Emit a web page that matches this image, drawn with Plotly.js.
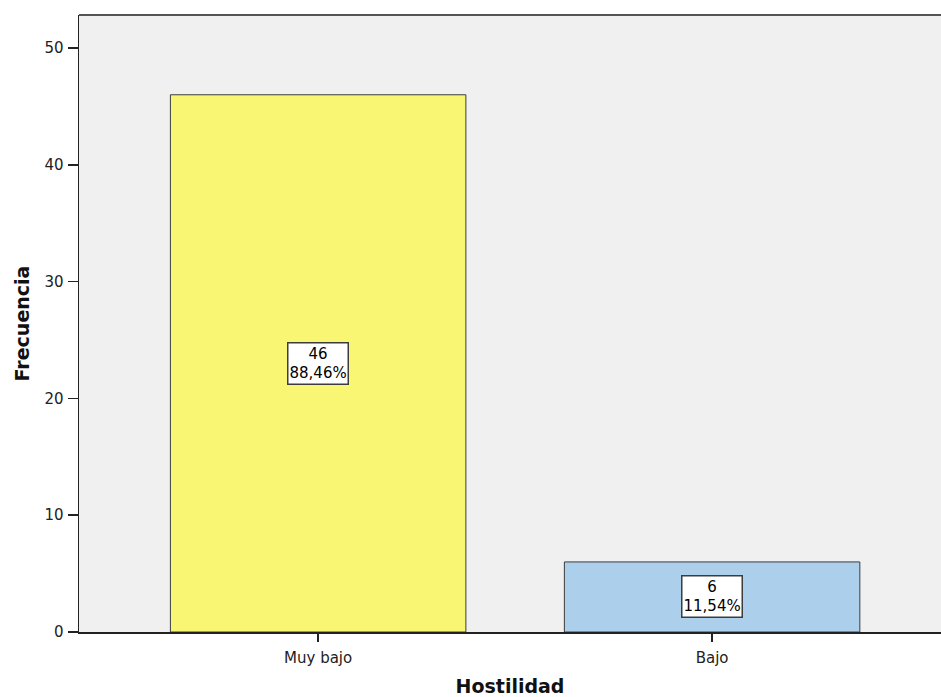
<!DOCTYPE html>
<html><head><meta charset="utf-8">
<script src="https://cdn.plot.ly/plotly-3.0.1.min.js"></script>
<style>html,body{margin:0;padding:0;overflow:hidden;background:#fff}</style>
</head><body><div id="chart" style="width:941px;height:697px"></div>
<script>
const categories = ["Muy bajo", "Bajo"];
const counts = [46, 6];
const percents = ["88,46%", "11,54%"];
const barColors = ["#f9f673", "#accfec"];
const yTicks = [0, 10, 20, 30, 40, 50];

const FONT = "DejaVu Sans, Arial, sans-serif";

const trace = {
  type: "bar",
  x: categories,
  y: counts,
  width: 0.75,
  marker: {color: barColors, line: {color: "#3c3c3c", width: 1}},
  hoverinfo: "skip"
};

const annotations = categories.map((c, i) => ({
  x: c, y: counts[i] / 2, xref: "x", yref: "y",
  text: counts[i] + "<br>" + percents[i],
  showarrow: false,
  font: {family: FONT, size: 15, color: "#000"},
  bgcolor: "#ffffff", bordercolor: "#3c3c3c", borderwidth: 1.5, borderpad: 1,
  align: "center"
}));

const layout = {
  width: 941, height: 697,
  margin: {l: 79, r: 0, t: 15, b: 65},
  paper_bgcolor: "#ffffff",
  plot_bgcolor: "#f0f0f0",
  showlegend: false,
  font: {family: FONT, size: 15, color: "#222"},
  xaxis: {
    type: "category",
    range: [-0.607, 1.581],
    showgrid: false, zeroline: false,
    showline: true, linecolor: "#222", linewidth: 1.5,
    ticks: "outside", ticklen: 8, tickcolor: "#222", tickwidth: 1.5,
    ticklabelstandoff: 3,
    tickfont: {family: FONT, size: 15, color: "#222"},
    title: {text: "Hostilidad", font: {family: FONT, size: 19, color: "#111", weight: "bold"}, standoff: 16}
  },
  yaxis: {
    range: [0, 52.83],
    tickvals: yTicks,
    showgrid: false, zeroline: false,
    showline: true, linecolor: "#222", linewidth: 1.5,
    ticks: "outside", ticklen: 10, tickcolor: "#222", tickwidth: 1.5,
    ticklabelstandoff: 1,
    tickfont: {family: FONT, size: 15, color: "#222"},
    title: {text: "Frecuencia", font: {family: FONT, size: 19, color: "#111", weight: "bold"}, standoff: 10}
  },
  shapes: [{
    type: "line", xref: "paper", yref: "paper", x0: 0, x1: 1, y0: 1, y1: 1,
    line: {color: "#555", width: 2}
  }],
  annotations: annotations
};

Plotly.newPlot("chart", [trace], layout, {displayModeBar: false, staticPlot: true});
</script></body></html>
